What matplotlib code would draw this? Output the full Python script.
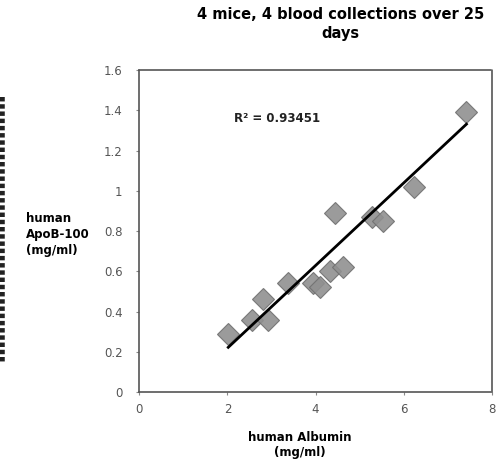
import numpy as np
import matplotlib.pyplot as plt
from matplotlib.lines import Line2D

# values
albumin = [2.02, 2.56, 2.81, 2.92, 3.37, 3.94, 4.10, 4.32, 4.62, 4.43, 5.29, 5.52, 6.24, 7.42]
apob = [0.29, 0.36, 0.46, 0.36, 0.54, 0.54, 0.52, 0.60, 0.62, 0.89, 0.87, 0.85, 1.02, 1.39]
# linear trendline as drawn in the reference (slope, intercept)
trend_slope = 0.2055
trend_intercept = -0.193
x_ticks = [0, 2, 4, 6, 8]
y_ticks = [0, 0.2, 0.4, 0.6, 0.8, 1, 1.2, 1.4, 1.6]
y_tick_labels = ['0', '0.2', '0.4', '0.6', '0.8', '1', '1.2', '1.4', '1.6']
r2_text = 'R² = 0.93451'

fig = plt.figure(figsize=(4.97, 4.65), dpi=100)
ax = fig.add_axes([0.28, 0.157, 0.71, 0.692])

ax.plot(albumin, apob, linestyle='none', marker='D', markersize=11,
        color='#909090', markeredgecolor='#707070', markeredgewidth=0.8, alpha=0.9)

xs = np.array([min(albumin), max(albumin)])
ax.plot(xs, trend_slope * xs + trend_intercept, color='black', linewidth=2)

ax.text(0.27, 0.84, r2_text, transform=ax.transAxes, fontsize=8.5,
        fontweight='bold', color='#222222')

ax.set_xlim(0, 8)
ax.set_ylim(0, 1.6)
ax.set_xticks(x_ticks)
ax.set_yticks(y_ticks)
ax.set_yticklabels(y_tick_labels)
ax.tick_params(labelsize=8.5, labelcolor='#555555', color='#888888',
               length=2, direction='out')
ax.tick_params(axis='y', pad=10)
ax.tick_params(axis='x', pad=6)
for sp in ax.spines.values():
    sp.set_linestyle((0, (1, 1)))
    sp.set_color('#555555')
    sp.set_linewidth(1.2)

fig.text(0.685, 0.985, '4 mice, 4 blood collections over 25\ndays', ha='center',
         va='top', fontsize=10.5, fontweight='bold', linespacing=1.3)
fig.text(0.052, 0.495, 'human\nApoB-100\n(mg/ml)', ha='left', va='center',
         multialignment='left', fontsize=8.5, fontweight='bold', linespacing=1.3)
fig.text(0.603, 0.043, 'human Albumin\n(mg/ml)', ha='center', va='center',
         fontsize=8.5, fontweight='bold', linespacing=1.2)

# left edge of the chart frame
fig.add_artist(Line2D([0.004, 0.004], [1 - 97 / 465, 1 - 362 / 465],
                      transform=fig.transFigure, color='#222222',
                      linewidth=4, linestyle=(0, (0.8, 0.5))))

fig.savefig('out.png', dpi=100)
